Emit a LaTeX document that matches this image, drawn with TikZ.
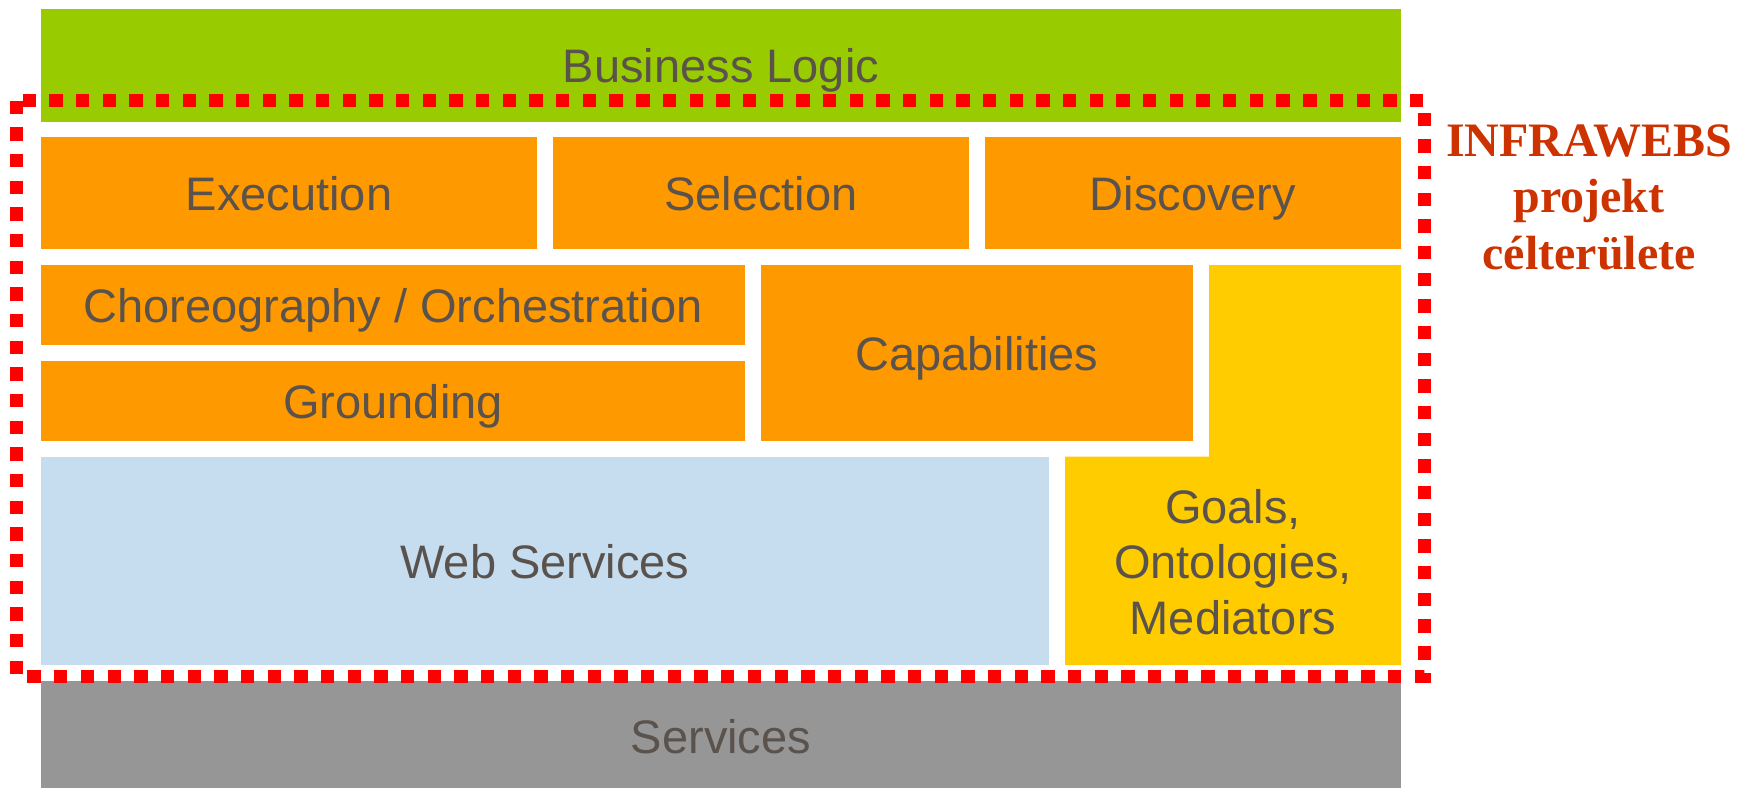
\documentclass[tikz,border=0pt]{standalone}
\usepackage{fontspec}
\setmainfont{Liberation Sans}
\newfontfamily\projfont{Liberation Serif}
\definecolor{logicgreen}{HTML}{99CC00}
\definecolor{layerorange}{HTML}{FF9900}
\definecolor{layeryellow}{HTML}{FFCC00}
\definecolor{wsblue}{HTML}{C6DCEF}
\definecolor{servgray}{HTML}{969696}
\definecolor{labelgray}{HTML}{5A524C}
\definecolor{projred}{HTML}{CC3300}

\begin{document}
\begin{tikzpicture}[x=0.5pt, y=-0.5pt,
    lbl/.style={text=labelgray, font=\fontsize{23.5}{27.8}\selectfont, anchor=base, inner sep=0pt},
    lbllines/.style={text=labelgray, font=\fontsize{23.5}{27.8}\selectfont, align=center, inner sep=0pt},
    areaframe/.style={draw=red, line width=6.67pt, dash pattern=on 6.67pt off 6.67pt}]
      \useasboundingbox (0,0) rectangle (1747,788);

      \fill[logicgreen] (41,9) rectangle (1401,121.7);
      \fill[layerorange] (41,137) rectangle (537,248.7);
      \fill[layerorange] (553,137) rectangle (969,248.7);
      \fill[layerorange] (985,137) rectangle (1401,248.7);
      \fill[layerorange] (41,265) rectangle (745,344.7);
      \fill[layerorange] (41,361) rectangle (745,440.7);
      \fill[layerorange] (761,265) rectangle (1193,440.7);
      \fill[layeryellow] (1209,265) -- (1401,265) -- (1401,665) -- (1065,665)
        -- (1065,456.7) -- (1209,456.7) -- cycle;
      \fill[wsblue] (41,457) rectangle (1049,665);
      \fill[servgray] (41,681) rectangle (1401,788);

      \node[lbl] (logic) at (721,82) {Business Logic};
      \node[lbl] (exec) at (289,210) {Execution};
      \node[lbl] (select) at (761,210) {Selection};
      \node[lbl] (discover) at (1193,210) {Discovery};
      \node[lbl] (choreo) at (393,322) {Choreography / Orchestration};
      \node[lbl] (ground) at (393,418) {Grounding};
      \node[lbl] (capab) at (977,370) {Capabilities};
      \node[lbl] (websrv) at (545,578) {Web Services};
      \node[lbllines] (goals) at (1233,562) {Goals,\\Ontologies,\\Mediators};
      \node[lbl] (srv) at (721,753) {Services};

      \draw[areaframe] (16.5,100.5) rectangle (1424.5,676.5);

      \node[text=projred, font=\projfont\bfseries\fontsize{24}{28.3}\selectfont,
        align=center, inner sep=0pt] (target) at (1589,197)
        {INFRAWEBS\\projekt\\célterülete};
    \end{tikzpicture}
\end{document}
